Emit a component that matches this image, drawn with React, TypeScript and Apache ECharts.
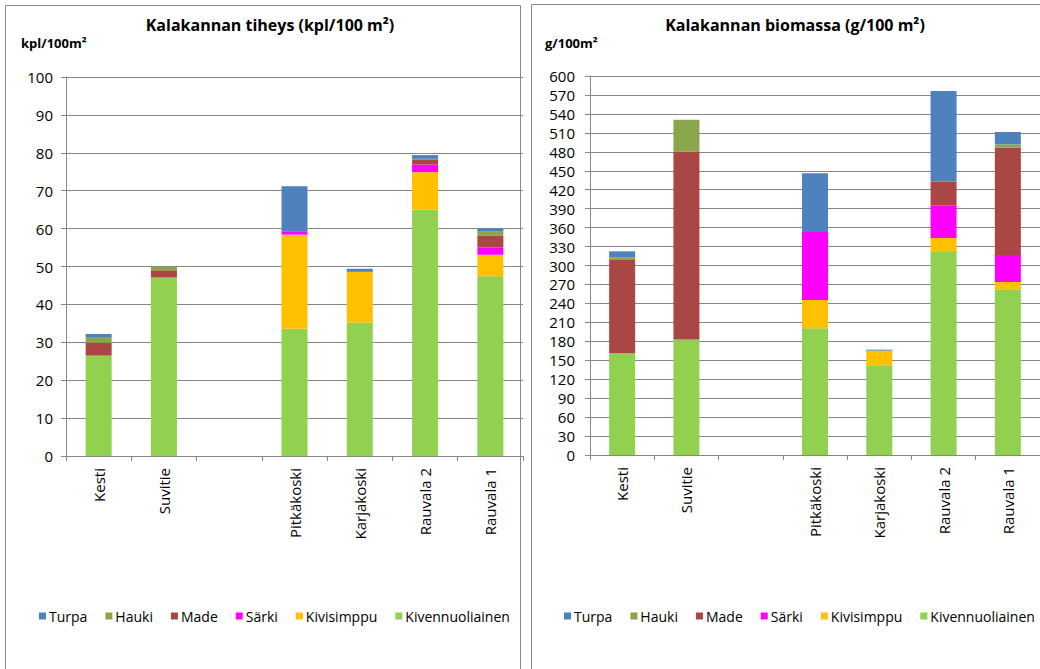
import React, { useEffect, useRef } from "react";
import * as echarts from "echarts";

const categories = ["Kesti", "Suvitie", "", "Pitkäkoski", "Karjakoski", "Rauvala 2", "Rauvala 1"];
const speciesStack = ["Kivennuoliainen", "Kivisimppu", "Särki", "Made", "Hauki", "Turpa"];
const legendOrder = ["Turpa", "Hauki", "Made", "Särki", "Kivisimppu", "Kivennuoliainen"];
const speciesColors: Record<string, string> = {
  Turpa: "#4F81BD",
  Hauki: "#8AA54B",
  Made: "#AA4643",
  "Särki": "#FF00FF",
  Kivisimppu: "#FFC000",
  Kivennuoliainen: "#92D050",
};

// Kalakannan tiheys (kpl/100 m²)
const densKivennuoliainen = [26.5, 47.1, null, 33.6, 35.2, 65.0, 47.4];
const densKivisimppu = [0, 0, null, 24.8, 13.4, 9.9, 5.7];
const densSarki = [0, 0, null, 0.9, 0, 2.0, 1.9];
const densMade = [3.4, 1.9, null, 0, 0, 1.2, 3.2];
const densHauki = [1.3, 1.0, null, 0, 0, 0.3, 1.0];
const densTurpa = [1.0, 0, null, 11.9, 0.8, 1.0, 0.8];

// Kalakannan biomassa (g/100 m²)
const bioKivennuoliainen = [161, 183, null, 200.5, 142, 321.4, 262.3];
const bioKivisimppu = [0, 0, null, 44.9, 23.2, 22.1, 11.6];
const bioSarki = [0, 0, null, 107.6, 0, 51.2, 42.7];
const bioMade = [147.7, 297, null, 0, 0, 38.5, 170.4];
const bioHauki = [4.2, 50.7, null, 0, 0, 0, 4.8];
const bioTurpa = [9.5, 0, null, 93, 1.6, 143, 19.5];

const densTicks = { min: 0, max: 100, interval: 10 };
const bioTicks = { min: 0, max: 600, interval: 30 };

const densData = [densKivennuoliainen, densKivisimppu, densSarki, densMade, densHauki, densTurpa];
const bioData = [bioKivennuoliainen, bioKivisimppu, bioSarki, bioMade, bioHauki, bioTurpa];

const FONT = "'Open Sans', sans-serif";

export default function App() {
  const ref = useRef<HTMLDivElement>(null);
  useEffect(() => {
    if (!ref.current) return;
    const chart = echarts.init(ref.current, null, { renderer: "svg" });
    const axisGrey = "#868686";
    const xAxisBase = (gridIndex: number) => ({
      type: "category",
      gridIndex,
      data: categories,
      boundaryGap: true,
      axisLine: { lineStyle: { color: axisGrey, width: 1 } },
      axisTick: { show: true, length: 5, alignWithLabel: false, lineStyle: { color: axisGrey } },
      axisLabel: { rotate: 90, interval: 0, margin: 12, fontSize: 15, color: "#000", fontFamily: FONT },
    });
    const yAxisBase = (gridIndex: number, t: any, margin: number) => ({
      type: "value",
      gridIndex,
      min: t.min,
      max: t.max,
      interval: t.interval,
      axisLine: { show: true, lineStyle: { color: axisGrey } },
      axisTick: { show: true, length: 5, lineStyle: { color: axisGrey } },
      axisLabel: { margin, fontSize: 15, color: "#000", fontFamily: FONT },
      splitLine: { show: true, lineStyle: { color: axisGrey, width: 1 } },
    });
    const mkSeries = (data: any[], idx: number) =>
      speciesStack.map((name, i) => ({
        name,
        type: "bar",
        stack: "s" + idx,
        xAxisIndex: idx,
        yAxisIndex: idx,
        barWidth: 26,
        data: data[i],
        itemStyle: { color: speciesColors[name] },
      }));
    const legendBase = (left: number) => ({
      left,
      top: 604,
      data: legendOrder,
      selectedMode: false,
      itemWidth: 7,
      itemHeight: 7,
      itemGap: 18,
      icon: "rect",
      textStyle: { fontSize: 14, color: "#000", fontFamily: FONT, padding: [0, 0, 0, -2] },
    });
    chart.setOption({
      animation: false,
      backgroundColor: "#fff",
      title: [
        {
          text: "Kalakannan tiheys (kpl/100 m²)",
          left: 265,
          textAlign: "center",
          top: 12,
          textStyle: { fontSize: 16, fontWeight: "bold", color: "#000", fontFamily: FONT },
        },
        {
          text: "Kalakannan biomassa (g/100 m²)",
          left: 790,
          textAlign: "center",
          top: 12,
          textStyle: { fontSize: 16, fontWeight: "bold", color: "#000", fontFamily: FONT },
        },
      ],
      legend: [legendBase(34), legendBase(559)],
      grid: [
        { left: 66, top: 77, width: 457, height: 379, containLabel: false },
        { left: 590, top: 76, width: 457, height: 379, containLabel: false },
      ],
      xAxis: [xAxisBase(0), xAxisBase(1)],
      yAxis: [yAxisBase(0, densTicks, 13), yAxisBase(1, bioTicks, 15)],
      series: [...mkSeries(densData, 0), ...mkSeries(bioData, 1)],
      graphic: [
        { type: "rect", shape: { x: 5.5, y: 5.5, width: 515, height: 700 }, style: { fill: "none", stroke: "#8a8a8a", lineWidth: 1 }, silent: true },
        { type: "rect", shape: { x: 531.5, y: 4.5, width: 520, height: 700 }, style: { fill: "none", stroke: "#8a8a8a", lineWidth: 1 }, silent: true },
        { type: "text", left: 21, top: 36, style: { text: "kpl/100m²", fontSize: 13, fontWeight: "bold", fill: "#000", fontFamily: FONT } },
        { type: "text", left: 545, top: 36, style: { text: "g/100m²", fontSize: 13, fontWeight: "bold", fill: "#000", fontFamily: FONT } },
      ],
    });
    return () => chart.dispose();
  }, []);
  return <div ref={ref} style={{ position: "fixed", left: 0, top: 0, width: 1040, height: 669 }} />;
}
